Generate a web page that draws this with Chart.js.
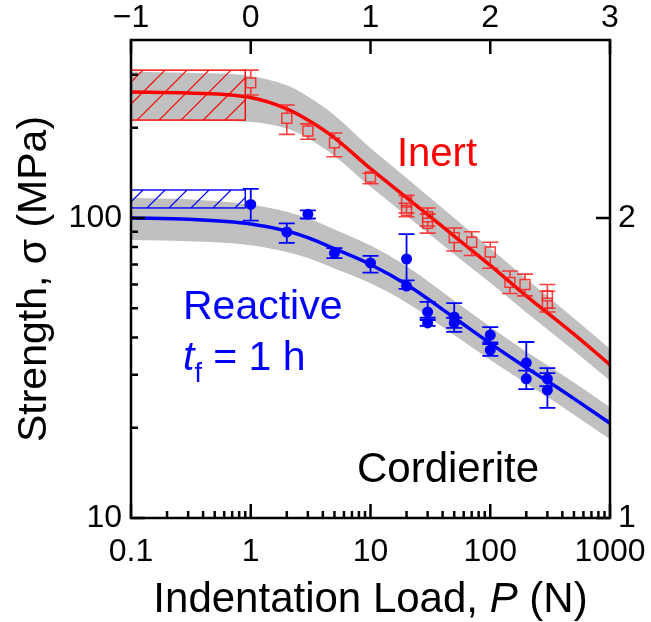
<!DOCTYPE html>
<html>
<head>
<meta charset="utf-8">
<script src="https://cdn.jsdelivr.net/npm/chart.js@4.4.0/dist/chart.umd.min.js"></script>
<style>
  html, body { margin: 0; padding: 0; background: #fff; }
</style>
</head>
<body>
<canvas id="myChart" width="651" height="622"></canvas>
<script>
// ---- data ----
// inert (open squares)
const inertP  = [1, 2, 3, 5, 10, 20, 20, 30, 30, 50, 70, 100, 146, 195, 300, 300];
const inertS  = [282, 215, 195, 178, 137, 113, 106, 101, 96, 86, 83, 77, 61, 60, 55, 52];
const inertHi = [311, 238, 206, 192, 141, 119, 112, 108, 103, 92.6, 90, 83, 66.6, 65, 60, 57];
const inertLo = [257, 190, 183, 160, 130, 104, 101, 94, 89, 77.6, 75, 68, 56, 55, 50, 48.6];

// reactive, t_f = 1 h (filled circles)
const reactP  = [1, 2, 3, 5, 10, 20, 20, 30, 30, 50, 50, 100, 100, 200, 200, 300, 300];
const reactS  = [111, 89.8, 103, 76.4, 70.8, 73, 59.3, 48.6, 44.7, 46.8, 44.7, 40.7, 36.3, 32.9, 29.1, 29.1, 26.7];
const reactHi = [125, 96, 106, 79.4, 74.8, 88.4, 62, 52.5, 45.7, 52, 46.5, 43.3, 38, 38.6, 31, 31.6, 30.4];
const reactLo = [98, 82.6, 99.6, 73.5, 65.7, 62, 58, 46.5, 43.7, 41.7, 43, 38.5, 34.7, 31, 26.9, 27.5, 23.3];

// fitted curves and grey bands
const inertFitP = [0.1, 0.3, 1, 2, 3, 5, 10, 20, 50, 100, 200, 500, 1000];
const inertFit  = [263, 261, 252, 231, 212, 185, 146, 117, 87, 69.5, 55, 41, 32.4];
const inertUp   = [307, 304.6, 297, 277, 254, 220, 171, 136, 100, 79.2, 62.7, 46.3, 36.6];
const inertDown = [212, 211.4, 209, 198.7, 184.4, 161, 127, 101.8, 75.7, 60.8, 48.4, 36.1, 28.7];

const reactFitP = [0.1, 0.3, 1, 2, 3, 5, 10, 20, 50, 100, 200, 300, 500, 1000];
const reactFit  = [100, 99, 95.5, 90.5, 86, 79, 70, 60, 46.5, 38.2, 31.7, 28.6, 25, 20.7];
const reactUp   = [116.6, 115.4, 110.8, 105, 99.8, 91.6, 80.9, 69, 53, 43.4, 35.8, 32.3, 28.3, 23.4];
const reactDown = [84.5, 83.7, 81.2, 77, 73.5, 67.9, 60.6, 52.2, 40.7, 33.6, 28.1, 25.3, 22.1, 18.3];

// hatched boxes: [P from, P to, sigma low, sigma high]
const inertBox = [0.1, 0.9, 212, 311];
const reactBox = [0.1, 0.9, 108, 124];

// axes
const xMin = 0.1, xMax = 1000;
const yMin = 10, yMax = 392;
const topTicks = [-1, 0, 1, 2, 3];
const rightTicks = [1, 2];

const FONT = '"Liberation Sans", Arial, Helvetica, sans-serif';
const RED = '#ff0000';
const BLUE = '#0000ff';
const GREY = '#c0c0c0';

function pts(xs, ys) {
  return xs.map((x, i) => ({ x: x, y: ys[i] }));
}
function isDecade(v) {
  const l = Math.log10(v);
  return Math.abs(l - Math.round(l)) < 1e-9;
}
function fmtDecade(v) {
  const l = Math.round(Math.log10(v));
  return l < 0 ? '0.' + '0'.repeat(-l - 1) + '1' : String(Math.pow(10, l));
}
function minus(v) {
  return v < 0 ? '\u2212' + Math.abs(v) : String(v);
}

function drawBox(chart, box, color) {
  const ctx = chart.ctx, xs = chart.scales.x, ys = chart.scales.y;
  const x0 = xs.getPixelForValue(box[0]), x1 = xs.getPixelForValue(box[1]);
  const y0 = ys.getPixelForValue(box[3]), y1 = ys.getPixelForValue(box[2]);
  const h = y1 - y0;
  ctx.save();
  ctx.beginPath();
  ctx.rect(x0, y0, x1 - x0, h);
  ctx.clip();
  ctx.strokeStyle = color;
  ctx.lineWidth = 1.2;
  ctx.beginPath();
  for (let k = x0 - h - 10; k < x1 + 10; k += 22) {
    ctx.moveTo(k, y1);
    ctx.lineTo(k + h, y0);
  }
  ctx.stroke();
  ctx.restore();
  ctx.save();
  ctx.strokeStyle = color;
  ctx.lineWidth = 1.4;
  ctx.strokeRect(x0, y0, x1 - x0, h);
  ctx.restore();
}

function drawErrors(chart, P, S, lo, hi, color, gap, cap, lw) {
  const ctx = chart.ctx, xs = chart.scales.x, ys = chart.scales.y;
  ctx.save();
  ctx.strokeStyle = color;
  ctx.lineWidth = lw;
  ctx.beginPath();
  for (let i = 0; i < P.length; i++) {
    const px = xs.getPixelForValue(P[i]);
    const py = ys.getPixelForValue(S[i]);
    const pt = ys.getPixelForValue(hi[i]);
    const pb = ys.getPixelForValue(lo[i]);
    if (py - gap > pt) { ctx.moveTo(px, pt); ctx.lineTo(px, py - gap); }
    if (py + gap < pb) { ctx.moveTo(px, py + gap); ctx.lineTo(px, pb); }
    ctx.moveTo(px - cap, pt); ctx.lineTo(px + cap, pt);
    ctx.moveTo(px - cap, pb); ctx.lineTo(px + cap, pb);
  }
  ctx.stroke();
  ctx.restore();
}

function drawRich(ctx, parts, x, y, align) {
  let total = 0;
  parts.forEach(p => { ctx.font = p.font; total += ctx.measureText(p.text).width; });
  let cx = align === 'center' ? x - total / 2 : x;
  parts.forEach(p => {
    ctx.font = p.font;
    ctx.fillText(p.text, cx, y + (p.dy || 0));
    cx += ctx.measureText(p.text).width;
  });
}

function tickLen(v) {
  const m = v / Math.pow(10, Math.floor(Math.log10(v) + 1e-9));
  if (Math.abs(m - Math.round(m)) > 1e-6) return 0;
  return (Math.round(m) === 1 || Math.round(m) === 10) ? 14 : 7;
}

const extras = {
  id: 'extras',
  beforeDatasetDraw(chart, args) {
    const lbl = chart.data.datasets[args.index].label;
    if (lbl === 'Inert fit') drawBox(chart, inertBox, RED);
    if (lbl === 'Reactive fit') drawBox(chart, reactBox, BLUE);
    if (lbl === 'Inert') drawErrors(chart, inertP, inertS, inertLo, inertHi, 'rgba(255,30,30,0.85)', 5, 8, 1.6);
    if (lbl === 'Reactive') drawErrors(chart, reactP, reactS, reactLo, reactHi, BLUE, 0, 8, 1.8);
  },
  afterDraw(chart) {
    const ctx = chart.ctx;
    const a = chart.chartArea;
    const xs = chart.scales.x, ys = chart.scales.y;
    const xt = chart.scales.x2, yr = chart.scales.y2;
    ctx.save();
    // inward tick marks
    ctx.strokeStyle = '#000';
    ctx.lineWidth = 2.5;
    ctx.beginPath();
    xs.ticks.forEach(t => {
      const len = tickLen(t.value);
      if (!len) return;
      const px = xs.getPixelForValue(t.value);
      ctx.moveTo(px, a.bottom); ctx.lineTo(px, a.bottom - len);
    });
    ys.ticks.forEach(t => {
      const len = tickLen(t.value);
      if (!len) return;
      const py = ys.getPixelForValue(t.value);
      ctx.moveTo(a.left, py); ctx.lineTo(a.left + len, py);
    });
    topTicks.forEach(v => {
      const px = xt.getPixelForValue(v);
      ctx.moveTo(px, a.top); ctx.lineTo(px, a.top + 14);
    });
    rightTicks.forEach(v => {
      const py = yr.getPixelForValue(v);
      ctx.moveTo(a.right, py); ctx.lineTo(a.right - 14, py);
    });
    ctx.stroke();
    // frame
    ctx.strokeRect(a.left, a.top, a.right - a.left, a.bottom - a.top);

    // annotations
    ctx.textAlign = 'left';
    ctx.textBaseline = 'alphabetic';
    ctx.fillStyle = RED;
    ctx.font = '40px ' + FONT;
    ctx.fillText('Inert', 397, 166);
    ctx.fillStyle = BLUE;
    ctx.font = '41px ' + FONT;
    ctx.fillText('Reactive', 183, 319);
    drawRich(ctx, [
      { text: 't', font: 'italic 41px ' + FONT },
      { text: 'f', font: '27px ' + FONT, dy: 12 },
      { text: ' = 1 h', font: '41px ' + FONT }
    ], 183, 370, 'left');
    ctx.fillStyle = '#000';
    ctx.font = '42px ' + FONT;
    ctx.fillText('Cordierite', 357, 482);

    // axis titles
    drawRich(ctx, [
      { text: 'Indentation Load, ', font: '42px ' + FONT },
      { text: 'P', font: 'italic 42px ' + FONT },
      { text: ' (N)', font: '42px ' + FONT }
    ], (a.left + a.right) / 2, 612, 'center');
    ctx.translate(46, (a.top + a.bottom) / 2);
    ctx.rotate(-Math.PI / 2);
    ctx.textAlign = 'center';
    ctx.font = '41px ' + FONT;
    ctx.fillText('Strength, \u03c3 (MPa)', 0, 0);
    ctx.restore();
  }
};

const tickFont = { family: FONT, size: 32 };

const data = {
  datasets: [
    { label: 'inert band up', data: pts(inertFitP, inertUp), showLine: true, borderWidth: 0, pointRadius: 0,
      borderColor: 'rgba(0,0,0,0)', fill: false, cubicInterpolationMode: 'monotone', order: 3 },
    { label: 'inert band down', data: pts(inertFitP, inertDown), showLine: true, borderWidth: 0, pointRadius: 0,
      borderColor: 'rgba(0,0,0,0)', backgroundColor: GREY, fill: '-1', cubicInterpolationMode: 'monotone', order: 3 },
    { label: 'react band up', data: pts(reactFitP, reactUp), showLine: true, borderWidth: 0, pointRadius: 0,
      borderColor: 'rgba(0,0,0,0)', fill: false, cubicInterpolationMode: 'monotone', order: 3 },
    { label: 'react band down', data: pts(reactFitP, reactDown), showLine: true, borderWidth: 0, pointRadius: 0,
      borderColor: 'rgba(0,0,0,0)', backgroundColor: GREY, fill: '-1', cubicInterpolationMode: 'monotone', order: 3 },
    { label: 'Inert fit', data: pts(inertFitP, inertFit), showLine: true, borderColor: RED, borderWidth: 3.5,
      pointRadius: 0, fill: false, cubicInterpolationMode: 'monotone', order: 2 },
    { label: 'Reactive fit', data: pts(reactFitP, reactFit), showLine: true, borderColor: BLUE, borderWidth: 3.5,
      pointRadius: 0, fill: false, cubicInterpolationMode: 'monotone', order: 2 },
    { label: 'Inert', data: pts(inertP, inertS), pointStyle: 'rect', pointRadius: 7,
      borderColor: 'rgba(255,30,30,0.85)', backgroundColor: 'rgba(0,0,0,0)', borderWidth: 1.5, order: 1 },
    { label: 'Reactive', data: pts(reactP, reactS), pointStyle: 'circle', pointRadius: 5.5,
      borderColor: BLUE, backgroundColor: BLUE, borderWidth: 0, order: 1 }
  ]
};

function fixH(h) {
  return s => { s.height = h; s.paddingLeft = 0; s.paddingRight = 0; };
}
function fixW(w) {
  return s => { s.width = w; s.paddingTop = 0; s.paddingBottom = 0; };
}

const config = {
  type: 'scatter',
  data: data,
  options: {
    responsive: false,
    animation: false,
    devicePixelRatio: 1,
    layout: { padding: 0 },
    plugins: { legend: { display: false }, tooltip: { enabled: false } },
    scales: {
      x: {
        type: 'logarithmic', position: 'bottom', min: xMin, max: xMax,
        grid: { display: false, drawTicks: false }, border: { display: false },
        ticks: { font: tickFont, color: '#000', padding: 15, autoSkip: false, maxRotation: 0,
          callback: v => isDecade(v) ? fmtDecade(v) : '' },
        afterFit: fixH(104)
      },
      x2: {
        type: 'linear', position: 'top', min: -1, max: 3,
        grid: { display: false, drawTicks: false }, border: { display: false },
        ticks: { font: tickFont, color: '#000', padding: 3, stepSize: 1, maxRotation: 0, callback: v => minus(v) },
        afterFit: fixH(40)
      },
      y: {
        type: 'logarithmic', position: 'left', min: yMin, max: yMax,
        grid: { display: false, drawTicks: false }, border: { display: false },
        ticks: { font: tickFont, color: '#000', padding: 9, autoSkip: false,
          callback: v => isDecade(v) ? fmtDecade(v) : '' },
        afterFit: fixW(131)
      },
      y2: {
        type: 'linear', position: 'right', min: 1, max: Math.log10(yMax),
        grid: { display: false, drawTicks: false }, border: { display: false },
        ticks: { font: tickFont, color: '#000', padding: 8, stepSize: 1, includeBounds: false,
          callback: v => Number.isInteger(v) ? String(v) : '' },
        afterFit: fixW(41)
      }
    }
  },
  plugins: [extras]
};

const ctx = document.getElementById('myChart').getContext('2d');
const myChart = new Chart(ctx, config);
</script>
</body>
</html>
